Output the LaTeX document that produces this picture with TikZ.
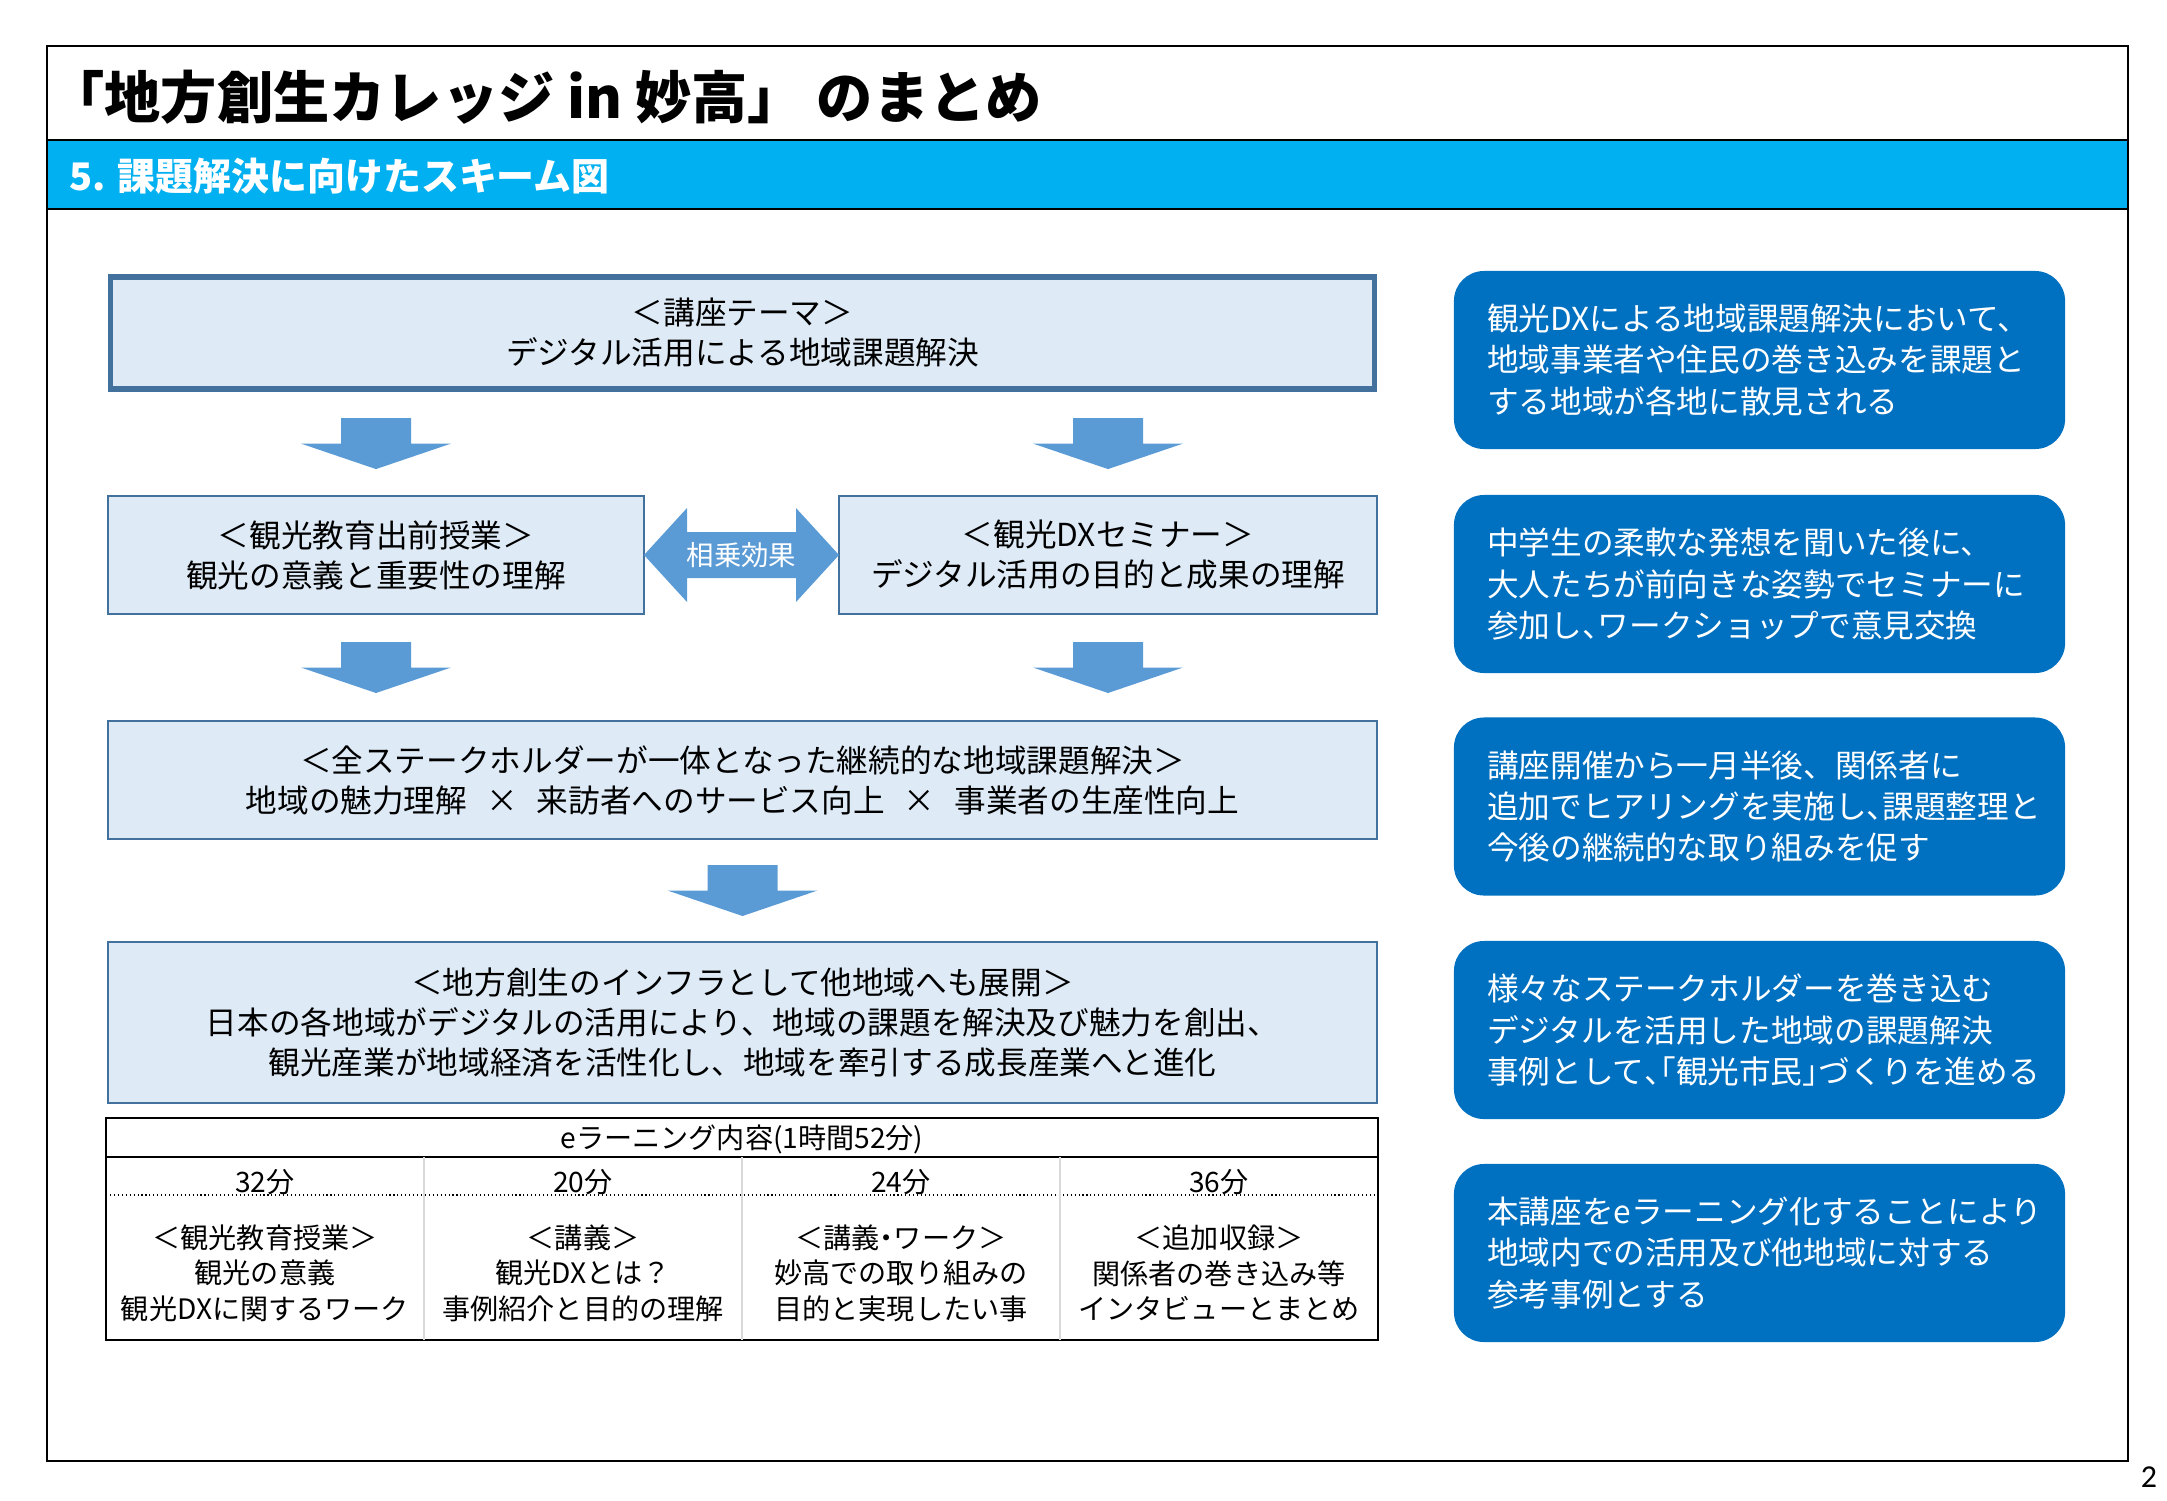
\documentclass[tikz,border=0pt]{standalone}
\usepackage{fontspec}
\setmainfont{Noto Sans CJK JP}
\newfontfamily\pagefont{Carlito}
\usetikzlibrary{calc}

\definecolor{bandblue}{HTML}{00B0F0}
\definecolor{noteblue}{HTML}{0070C0}
\definecolor{boxfill}{HTML}{DEEBF7}
\definecolor{boxline}{HTML}{41719C}
\definecolor{arrowblue}{HTML}{5B9BD5}
\definecolor{cellline}{HTML}{D9D9D9}

\newcommand{\halfpunct}[1]{{\addfontfeature{RawFeature=+halt}#1}}
\newcommand{\timesgap}{\makebox[2.2em]{×}}

\begin{document}
\begin{tikzpicture}[x=0.025cm, y=-0.025cm,
    every node/.style={inner sep=0pt},
    schemebox/.style={draw=boxline, line width=1.2pt, fill=boxfill, align=center,
      font=\fontsize{22.5}{28.45}\selectfont},
    notebox/.style={fill=noteblue, rounded corners=0.75cm, minimum width=15.275cm, minimum height=4.45cm},
    notetext/.style={text=white, align=left, anchor=west, font=\fontsize{22.5}{29.5}\selectfont},
    cellhead/.style={align=center, font=\fontsize{20}{25.25}\selectfont},
    blockarrow/.style={fill=arrowblue}]
    \useasboundingbox (0,0) rectangle (2167,1500);

    % page frame and header band
    \fill[bandblue] (47,140) rectangle (2128,209);
    \draw[line width=2pt] (47,46) rectangle (2128,1461);
    \draw[line width=2pt] (47,140) -- (2128,140);
    \draw[line width=2pt] (47,209) -- (2128,209);
    \node[anchor=west, font=\fontsize{40}{48}\selectfont\bfseries] (title) at (48,97) {「地方創生カレッジ in 妙高」 のまとめ};
    \node[anchor=west, text=white, font=\fontsize{27}{32}\selectfont\bfseries] (subtitle) at (69,176) {5. 課題解決に向けたスキーム図};
    \node[font=\pagefont\fontsize{22.7}{27}\selectfont] (pageno) at (2149,1477) {2};

    % scheme boxes
    \node[schemebox, line width=4pt, minimum width=31.585cm, minimum height=2.81cm] (theme) at (742.5,333) {＜講座テーマ＞\\デジタル活用による地域課題解決};
    \node[schemebox, minimum width=13.4cm, minimum height=2.95cm] (tour) at (376,555) {＜観光教育出前授業＞\\観光の意義と重要性の理解};
    \node[schemebox, minimum width=13.45cm, minimum height=2.95cm] (seminar) at (1108,555) {＜観光DXセミナー＞\\デジタル活用の目的と成果の理解};
    \node[schemebox, minimum width=31.725cm, minimum height=2.95cm] (stake) at (742.5,780) {＜全ステークホルダーが一体となった継続的な地域課題解決＞\\地域の魅力理解\timesgap 来訪者へのサービス向上\timesgap 事業者の生産性向上};
    \node[schemebox, minimum width=31.725cm, minimum height=4.025cm] (infra) at (742.5,1022.5) {＜地方創生のインフラとして他地域へも展開＞\\日本の各地域がデジタルの活用により、地域の課題を解決及び魅力を創出、\\観光産業が地域経済を活性化し、地域を牽引する成長産業へと進化};

    % block arrows
    \coordinate (a1) at ($(theme.south -| tour.north)!0.5!(tour.north)$);
    \coordinate (a2) at ($(theme.south -| seminar.north)!0.5!(seminar.north)$);
    \coordinate (a3) at ($(tour.south)!0.5!(stake.north -| tour.south)$);
    \coordinate (a4) at ($(seminar.south)!0.5!(stake.north -| seminar.south)$);
    \coordinate (a5) at ($(stake.south)!0.5!(infra.north)$);
    \foreach \c in {a1,a2,a3,a4,a5}
      \fill[blockarrow, shift={(\c)}] (-35,-25.5) -- (35,-25.5) -- (35,0) -- (75,0) -- (0,25.5) -- (-75,0) -- (-35,0) -- cycle;
    \coordinate (syn) at ($(tour.east)!0.5!(seminar.west)$);
    \fill[blockarrow, shift={(syn)}] (-97.5,0) -- (-54.5,-47) -- (-54.5,-23) -- (54.5,-23) -- (54.5,-47) -- (97.5,0)
      -- (54.5,47) -- (54.5,23) -- (-54.5,23) -- (-54.5,47) -- cycle;
    \node[text=white, font=\fontsize{19.5}{24}\selectfont] (synlabel) at (syn) {相乗効果};

    % e-learning table
    \draw[line width=1.4pt] (106,1118) rectangle (1378,1340);
    \draw[line width=1.4pt] (106,1157) -- (1378,1157);
    \draw[dotted, line width=0.8pt] (106,1195) -- (1378,1195);
    \foreach \x in {424,742,1060}
      \draw[cellline, line width=0.8pt] (\x,1157) -- (\x,1340);
    \node[cellhead] (elearn) at (742,1139) {eラーニング内容(1時間52分)};
    \foreach \t [count=\i] in {32,20,24,36}
      \node[cellhead] (time\i) at (265+318*\i-318,1182) {\t 分};
    \node[cellhead] (cell1) at (265,1273) {＜観光教育授業＞\\観光の意義\\観光DXに関するワーク};
    \node[cellhead] (cell2) at (583,1273) {＜講義＞\\観光DXとは？\\事例紹介と目的の理解};
    \node[cellhead] (cell3) at (901,1273) {＜講義\halfpunct{・}ワーク＞\\妙高での取り組みの\\目的と実現したい事};
    \node[cellhead] (cell4) at (1219,1273) {＜追加収録＞\\関係者の巻き込み等\\インタビューとまとめ};

    % notes on the right
    \foreach \y [count=\n] in {360,584,806.5,1030,1253}
      \node[notebox] (note\n) at (1759.5,\y) {};
    \node[notetext] (text1) at ([xshift=0.83cm]note1.west) {観光DXによる地域課題解決において、\\地域事業者や住民の巻き込みを課題と\\する地域が各地に散見される};
    \node[notetext] (text2) at ([xshift=0.83cm]note2.west) {中学生の柔軟な発想を聞いた後に、\\大人たちが前向きな姿勢でセミナーに\\参加し\halfpunct{、}ワークショップで意見交換};
    \node[notetext] (text3) at ([xshift=0.83cm]note3.west) {講座開催から一月半後、関係者に\\追加でヒアリングを実施し\halfpunct{、}課題整理と\\今後の継続的な取り組みを促す};
    \node[notetext] (text4) at ([xshift=0.83cm]note4.west) {様々なステークホルダーを巻き込む\\デジタルを活用した地域の課題解決\\事例として\halfpunct{、「}観光市民\halfpunct{」}づくりを進める};
    \node[notetext] (text5) at ([xshift=0.83cm]note5.west) {本講座をeラーニング化することにより\\地域内での活用及び他地域に対する\\参考事例とする};
\end{tikzpicture}
\end{document}
